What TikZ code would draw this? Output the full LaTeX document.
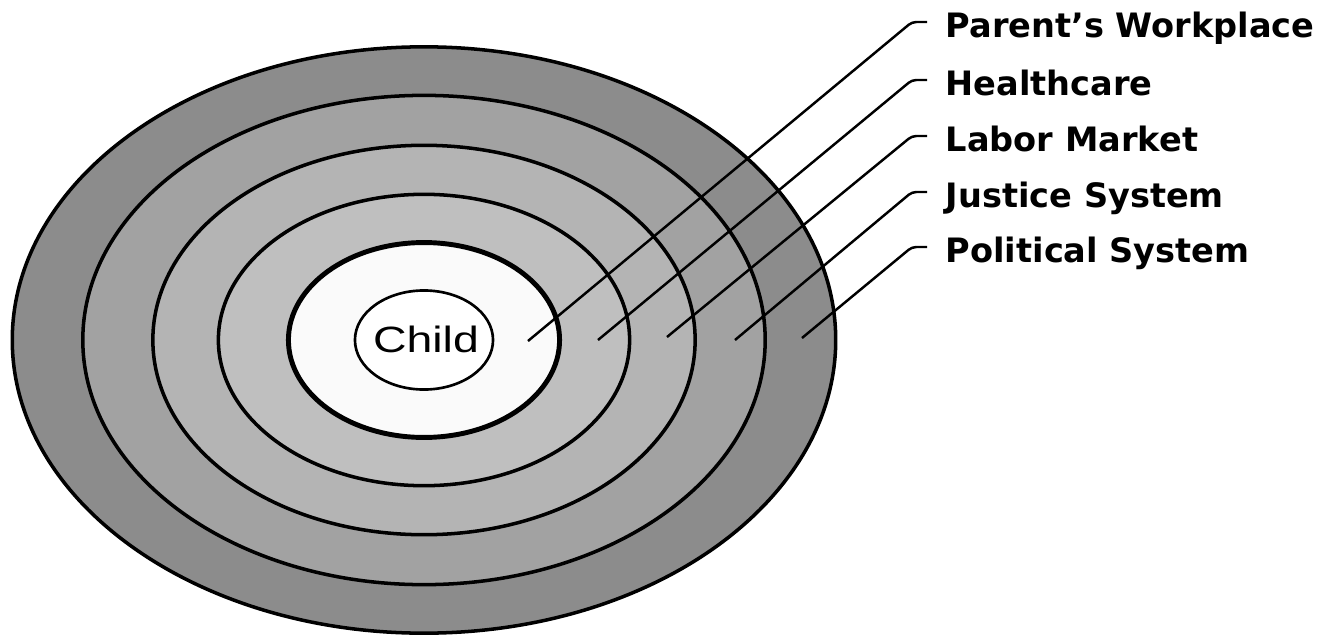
\documentclass[tikz,border=0pt]{standalone}
\usepackage{fontspec}
\newfontfamily\lblfont{DejaVu Sans}
\newfontfamily\childfont{Liberation Sans}
\usetikzlibrary{shapes.geometric,calc}
\definecolor{ringA}{HTML}{8C8C8C}
\definecolor{ringB}{HTML}{A2A2A2}
\definecolor{ringC}{HTML}{B4B4B4}
\definecolor{ringD}{HTML}{BFBFBF}
\definecolor{ringE}{HTML}{FAFAFA}
\begin{document}
\begin{tikzpicture}[x=0.01cm,y=-0.01cm,
  ring/.style={draw=black,line width=1pt},
  lbl/.style={inner sep=0pt,anchor=base west,font=\lblfont\bfseries\fontsize{9.55pt}{11pt}\selectfont},
  leader/.style={draw=black,line width=0.7pt,rounded corners=1.2pt},
  childnode/.style={ellipse,draw=black,line width=0.75pt,fill=white,inner sep=0pt,
     minimum width=1.38cm,minimum height=0.99cm},
  childtext/.style={inner sep=0pt,font=\childfont\fontsize{10.4pt}{12pt}\selectfont}]
\useasboundingbox[fill=white] (0,0) rectangle (1326,636);
\coordinate (c) at (424,340);
\filldraw[ring,fill=ringA] (c) ellipse [x radius=4.115cm, y radius=2.93cm];
\filldraw[ring,fill=ringB] (c) ellipse [x radius=3.41cm, y radius=2.445cm];
\filldraw[ring,fill=ringC] (c) ellipse [x radius=2.71cm, y radius=1.946cm];
\filldraw[ring,fill=ringD] (c) ellipse [x radius=2.055cm, y radius=1.456cm];
\filldraw[ring,line width=1.4pt,fill=ringE] (c) ellipse [x radius=1.355cm, y radius=0.974cm];
\node[childnode] (child) at (c) {};
\node[childtext] (childlbl) at ($(child.center)+(2,-1)$) {\scalebox{1.27}[1]{Child}};
% labels
\node[lbl] (l1) at (945,37) {Parent’s Workplace};
\node[lbl] (l2) at (945,95) {Healthcare};
\node[lbl] (l3) at (945,151) {Labor Market};
\node[lbl] (l4) at (945,207) {Justice System};
\node[lbl] (l5) at (945,262) {Political System};
% leader end points
\coordinate (e1) at (528,341);
\coordinate (e2) at (598,340);
\coordinate (e3) at (667,337);
\coordinate (e4) at (735,340);
\coordinate (e5) at (802,338);
\foreach \i in {1,...,5}{
  \draw[leader] (l\i.base west) ++(-18,-15) -- ++(-15,0) -- (e\i);
}
\end{tikzpicture}
\end{document}
